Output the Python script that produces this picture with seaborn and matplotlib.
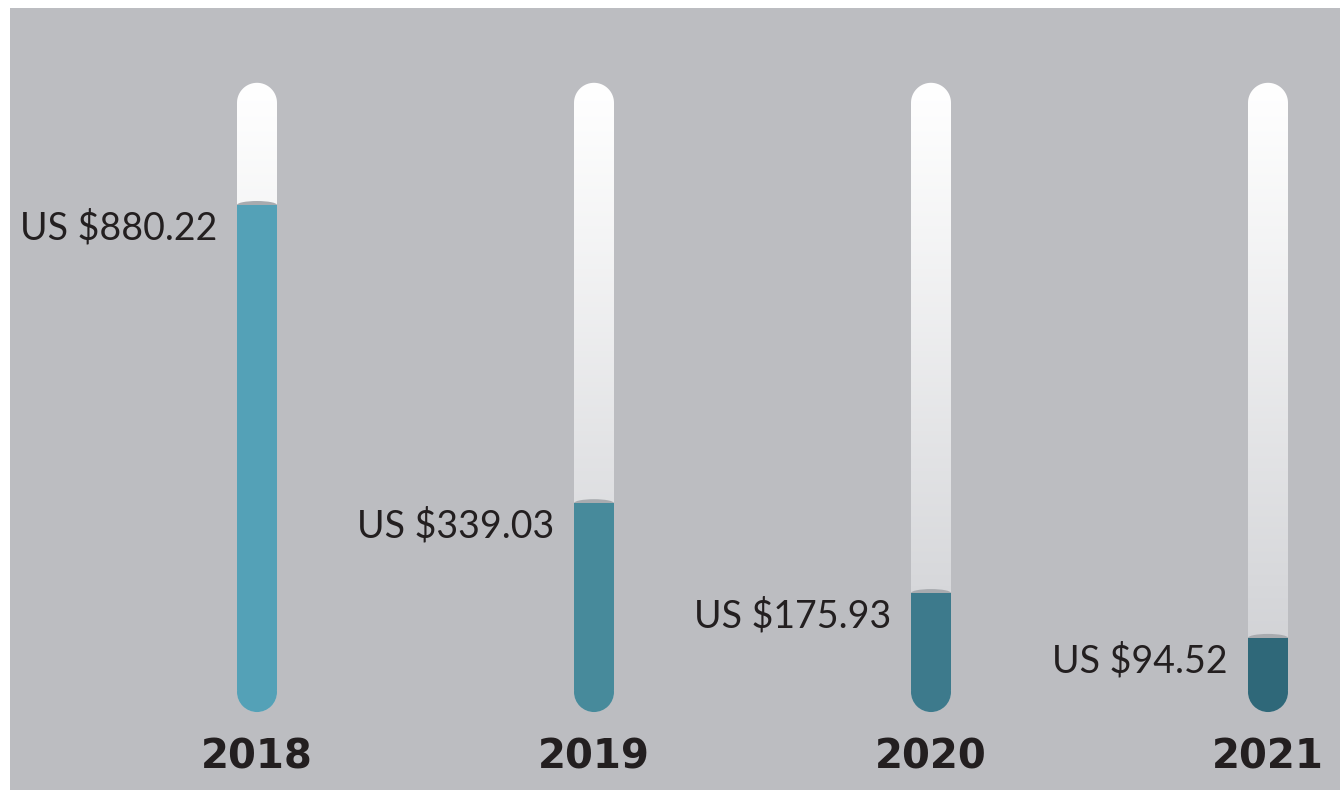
"""
Test-tube style bar chart: yearly value in US$
"""
import numpy as np
import matplotlib
matplotlib.use("Agg")
import matplotlib.pyplot as plt
import seaborn as sns
from matplotlib.patches import Ellipse, PathPatch
from matplotlib.path import Path

years = ["2018", "2019", "2020", "2021"]
values = [880.22, 339.03, 175.93, 94.52]
value_labels = ["US $880.22", "US $339.03", "US $175.93", "US $94.52"]
fill_colors = ["#54a1b7", "#478a9b", "#3d7a8c", "#2f6879"]

TUBE_TOP = 1102      # top of the empty tubes, in value units
TUBE_BOTTOM = -40    # rounded bottom of the tubes
BG = "#bcbdc1"
TEXT = "#231f20"

sns.set_style("white")

fig = plt.figure(figsize=(13.4, 7.9), dpi=100)
fig.patch.set_facecolor("white")
ax = fig.add_axes([10 / 1340, 0, 1330 / 1340, 782 / 790])
ax.set_facecolor(BG)

# scales: one category step = 337 px, one value unit = 0.551 px
px_x = 337.0
px_y = 0.551
half_w = 20 / px_x
cap_h = 20 / px_y

sns.barplot(x=years, y=values, hue=years, palette=fill_colors, legend=False,
            width=2 * half_w, saturation=1, ax=ax)
for bar in ax.patches:
    bar.set_zorder(4)
    bar.set_linewidth(0)


def tube_path(cx, bottom, top):
    t = np.linspace(0, np.pi, 40)
    top_arc = np.column_stack([cx + half_w * np.cos(t), top - cap_h + cap_h * np.sin(t)])
    bot_arc = np.column_stack([cx - half_w * np.cos(t), bottom + cap_h - cap_h * np.sin(t)])
    pts = np.vstack([top_arc, bot_arc, top_arc[:1]])
    return Path(pts, closed=True)


grad = np.linspace(0, 1, 256) ** 1.1
top_rgb = np.array([1.0, 1.0, 1.0])
bot_rgb = np.array([0.80, 0.805, 0.82])
img = (top_rgb[None, :] * (1 - grad[:, None]) + bot_rgb[None, :] * grad[:, None])[:, None, :]

for i, (val, lab, col) in enumerate(zip(values, value_labels, fill_colors)):
    # empty glass tube with gradient
    patch = PathPatch(tube_path(i, TUBE_BOTTOM, TUBE_TOP), facecolor="none",
                      edgecolor="none", zorder=1)
    ax.add_patch(patch)
    im = ax.imshow(img, extent=[i - half_w, i + half_w, TUBE_BOTTOM, TUBE_TOP],
                   aspect="auto", origin="upper", zorder=1, interpolation="bilinear")
    im.set_clip_path(patch)

    # rounded bottom of the liquid
    ax.add_patch(Ellipse((i, TUBE_BOTTOM + cap_h), 2 * half_w, 2 * cap_h,
                         facecolor=col, edgecolor="none", zorder=4))
    # meniscus
    ax.add_patch(Ellipse((i, val), 2 * half_w, 8 / px_y,
                         facecolor="#a8abaf", edgecolor="none", zorder=3))

    ax.text(i - half_w - 20 / px_x, val - 23 / px_y, lab, ha="right", va="center",
            fontsize=27, color=TEXT, family=["Lato", "DejaVu Sans"])
    ax.text(i, -122, years[i], ha="center", va="center", fontsize=29,
            fontweight="bold", color=TEXT, family="DejaVu Sans")

ax.set_xlim(-247 / px_x, 1083 / px_x)
ax.set_ylim(-100 / px_y, 682 / px_y)
ax.set_xticks([])
ax.set_yticks([])
ax.set_xlabel("")
ax.set_ylabel("")
for s in ax.spines.values():
    s.set_visible(False)

fig.savefig("out.png", dpi=100, facecolor=fig.get_facecolor())
